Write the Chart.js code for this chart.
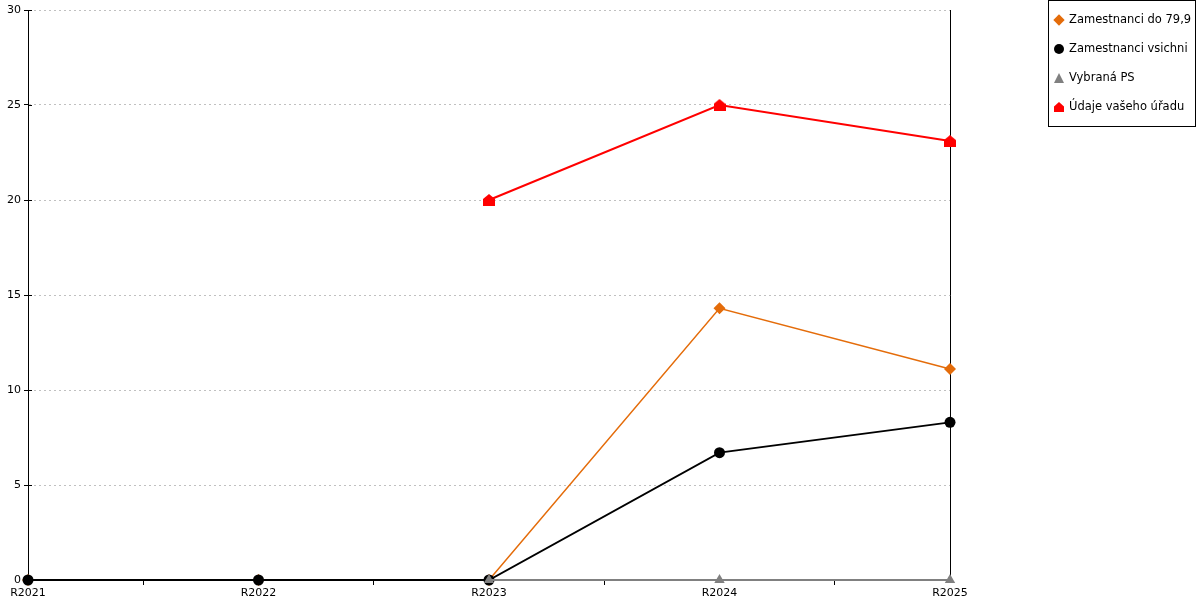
<!DOCTYPE html>
<html lang="cs">
<head>
    <meta charset="UTF-8">
    <title>Zamestnanci</title>
    <script src="https://cdn.jsdelivr.net/npm/chart.js"></script>
    <style>
        body {
            margin: 0;
            background: #fff;
            font-family: "DejaVu Sans", sans-serif;
        }

        .wrap {
            position: relative;
            width: 1200px;
            height: 600px;
        }

        #legend {
            position: absolute;
            left: 1048px;
            top: 0;
            width: 148px;
            height: 127px;
            border: 1px solid #000;
            padding-top: 4px;
            box-sizing: border-box;
            font-size: 11.5px;
            color: #000;
        }

        .item {
            position: relative;
            height: 29px;
            line-height: 29px;
            padding-left: 20px;
            white-space: nowrap;
        }

        .mk {
            position: absolute;
            left: 5px;
            top: 10px;
            width: 10px;
            height: 10px;
        }

        .diamond { transform: scale(0.8) rotate(45deg); }
        .circle { border-radius: 50%; }
        .triangle { clip-path: polygon(50% 0, 100% 100%, 0 100%); }
        .house { clip-path: polygon(50% 0, 100% 45%, 100% 100%, 0 100%, 0 45%); }
    </style>
</head>
<body>
    <div class="wrap">
        <canvas id="chart" width="1200" height="600"></canvas>
        <div id="legend"></div>
    </div>

    <script>
        // data
        const roky = ['R2021', 'R2022', 'R2023', 'R2024', 'R2025'];
        const do799 = [0, 0, 0, 14.3, 11.1];
        const vsichni = [0, 0, 0, 6.7, 8.3];
        const vybranaPS = [null, null, 0, 0, 0];
        const vasUrad = [null, null, 20, 25, 23.1];
        const yTicks = [0, 5, 10, 15, 20, 25, 30];

        const names = ['Zamestnanci do 79,9', 'Zamestnanci vsichni', 'Vybraná PS', 'Údaje vašeho úřadu'];
        const colors = ['#e46c0a', '#000000', '#808080', '#ff0000'];
        const shapes = ['diamond', 'circle', 'triangle', 'house'];

        // little house marker for the red series
        const house = document.createElement('canvas');
        house.width = 12;
        house.height = 12;
        const hc = house.getContext('2d');
        hc.fillStyle = colors[3];
        hc.beginPath();
        hc.moveTo(6, 0);
        hc.lineTo(12, 5);
        hc.lineTo(12, 12);
        hc.lineTo(0, 12);
        hc.lineTo(0, 5);
        hc.closePath();
        hc.fill();

        const datasets = [
            {
                label: names[3], data: vasUrad, order: 0,
                borderColor: colors[3], backgroundColor: colors[3], borderWidth: 2,
                pointStyle: house
            },
            {
                label: names[2], data: vybranaPS, order: 1,
                borderColor: colors[2], backgroundColor: colors[2], borderWidth: 2,
                pointStyle: 'triangle', pointRadius: 6
            },
            {
                label: names[1], data: vsichni, order: 2,
                borderColor: colors[1], backgroundColor: colors[1], borderWidth: 1.8,
                pointStyle: 'circle', pointRadius: 5.5
            },
            {
                label: names[0], data: do799, order: 3,
                borderColor: colors[0], backgroundColor: colors[0], borderWidth: 1.5,
                pointStyle: 'rectRot', pointRadius: 6
            }
        ];
        datasets.forEach(d => {
            d.tension = 0;
            d.clip = false;
            d.spanGaps = false;
            d.pointBorderWidth = 0;
            d.pointHoverRadius = d.pointRadius || 6;
        });

        const tickFont = { family: 'DejaVu Sans', size: 11 };

        // frame lines + y tick marks that cross the axis, as in the original
        const frame = {
            id: 'frame',
            beforeDatasetsDraw(chart) {
                const y = chart.scales.y, ctx = chart.ctx, a = chart.chartArea;
                const r = Math.round(a.right) + 0.5, b = Math.round(a.bottom) + 0.5;
                ctx.save();
                ctx.strokeStyle = '#000';
                ctx.lineWidth = 1;
                ctx.beginPath();
                ctx.moveTo(r, a.top);
                ctx.lineTo(r, b);
                ctx.moveTo(a.left, b);
                ctx.lineTo(r, b);
                ctx.stroke();
                y.ticks.forEach(t => {
                    const py = Math.round(y.getPixelForValue(t.value)) + 0.5;
                    ctx.beginPath();
                    ctx.moveTo(a.left, py);
                    ctx.lineTo(a.left + 4, py);
                    ctx.stroke();
                });
                ctx.restore();
            }
        };

        new Chart(document.getElementById('chart'), {
            type: 'line',
            data: { labels: roky, datasets: datasets },
            plugins: [frame],
            options: {
                responsive: false,
                animation: false,
                layout: { padding: { top: 10, right: 250, left: 0, bottom: 0 } },
                plugins: { legend: { display: false }, tooltip: { enabled: false } },
                scales: {
                    x: {
                        offset: false,
                        afterFit(scale) { scale.height = 20; },
                        grid: {
                            offset: true,
                            drawOnChartArea: false,
                            tickLength: 5,
                            tickColor: '#000'
                        },
                        border: { display: false },
                        ticks: { color: '#000', font: tickFont, padding: 2, maxRotation: 0 }
                    },
                    y: {
                        min: 0,
                        max: 30,
                        afterFit(scale) { scale.width = 28; },
                        afterBuildTicks(scale) { scale.ticks = yTicks.map(v => ({ value: v })); },
                        grid: {
                            color: '#c0c0c0',
                            tickColor: '#000',
                            tickBorderDash: [],
                            tickLength: 4
                        },
                        border: { color: '#000', width: 1, dash: [2, 3] },
                        ticks: { color: '#000', font: tickFont, padding: 3 }
                    }
                }
            }
        });

        // legend box
        const legend = document.getElementById('legend');
        names.forEach((n, i) => {
            const row = document.createElement('div');
            row.className = 'item';
            const mk = document.createElement('span');
            mk.className = 'mk ' + shapes[i];
            mk.style.background = colors[i];
            row.appendChild(mk);
            row.appendChild(document.createTextNode(n));
            legend.appendChild(row);
        });
    </script>
</body>
</html>
